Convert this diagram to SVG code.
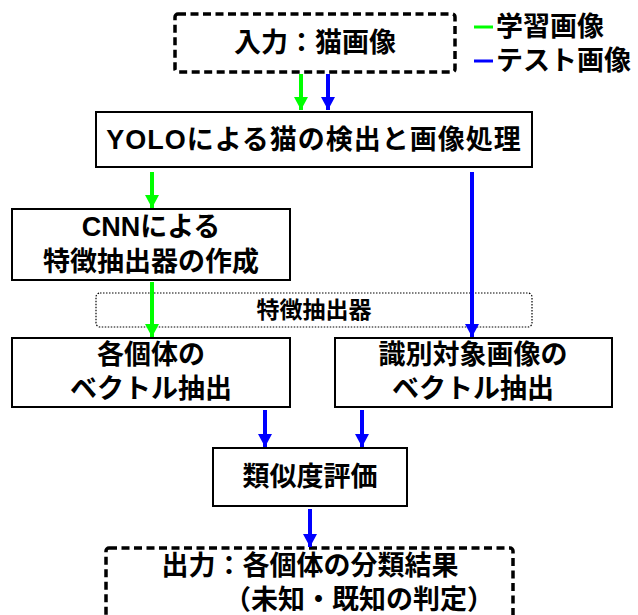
<svg xmlns="http://www.w3.org/2000/svg" width="638" height="615" viewBox="0 0 638 615">
<defs>
<marker id="ag" viewBox="0 0 13 14" refX="13" refY="7" markerWidth="13" markerHeight="14" markerUnits="userSpaceOnUse" orient="auto"><path d="M0,0 L13,7 L0,14 Z" fill="#00ff00"/></marker>
<marker id="ab" viewBox="0 0 13 14" refX="13" refY="7" markerWidth="13" markerHeight="14" markerUnits="userSpaceOnUse" orient="auto"><path d="M0,0 L13,7 L0,14 Z" fill="#0000ff"/></marker>
</defs>
<style>
text{font-family:"Liberation Sans","Noto Sans CJK JP",sans-serif;font-weight:bold;fill:#000;font-size:27px;text-anchor:middle;dominant-baseline:central}
.box{fill:#fff;stroke:#000;stroke-width:2}
.dash{fill:#fff;stroke:#000;stroke-width:3.5;stroke-dasharray:8 4.5}
.dot{fill:#fff;stroke:#000;stroke-width:1.2;stroke-dasharray:1.5 1.5}
.g{stroke:#00ff00;stroke-width:4;fill:none}
.b{stroke:#0000ff;stroke-width:4;fill:none}
</style>
<rect width="638" height="615" fill="#fff"/>
<g id="input"><rect class="dash" x="175" y="14" width="280" height="58" rx="3"/><text x="315" y="43">入力：猫画像</text></g>
<g id="legend">
<line class="g" x1="474" y1="27" x2="493" y2="27" style="stroke-width:3"/><text x="496" y="27" style="text-anchor:start">学習画像</text>
<line class="b" x1="474" y1="61" x2="493" y2="61" style="stroke-width:3"/><text x="496" y="61" style="text-anchor:start">テスト画像</text>
</g>
<g id="yolo"><rect class="box" x="96" y="112" width="436" height="55"/><text x="314" y="140" style="letter-spacing:1px">YOLOによる猫の検出と画像処理</text></g>
<g id="cnn"><rect class="box" x="12" y="209" width="278" height="71"/><text x="151" y="227">CNNによる</text><text x="151" y="262">特徴抽出器の作成</text></g>
<g id="extractor"><rect class="dot" x="96" y="293" width="436" height="34" rx="4"/><text x="314" y="310" style="font-size:23px">特徴抽出器</text></g>
<g id="vecL"><rect class="box" x="12" y="338" width="278" height="69"/><text x="151" y="355">各個体の</text><text x="151" y="389">ベクトル抽出</text></g>
<g id="vecR"><rect class="box" x="335" y="338" width="277" height="69"/><text x="473" y="355">識別対象画像の</text><text x="473" y="389">ベクトル抽出</text></g>
<g id="sim"><rect class="box" x="213" y="448" width="194" height="58"/><text x="310" y="477">類似度評価</text></g>
<g id="output"><rect class="dash" x="106" y="548" width="407" height="80" rx="3"/><text x="310" y="566">出力：各個体の分類結果</text><text x="224" y="600" style="text-anchor:start">（未知・既知の判定）</text></g>
<g id="connectors">
<line class="g" x1="301" y1="74" x2="301" y2="110" marker-end="url(#ag)"/>
<line class="b" x1="328" y1="74" x2="328" y2="110" marker-end="url(#ab)"/>
<line class="g" x1="152" y1="172" x2="152" y2="208" marker-end="url(#ag)"/>
<line class="b" x1="472" y1="172" x2="472" y2="337" marker-end="url(#ab)"/>
<line class="g" x1="152" y1="282" x2="152" y2="337" marker-end="url(#ag)"/>
<line class="b" x1="265" y1="410" x2="265" y2="447" marker-end="url(#ab)"/>
<line class="b" x1="362" y1="410" x2="362" y2="447" marker-end="url(#ab)"/>
<line class="b" x1="310" y1="509" x2="310" y2="547" marker-end="url(#ab)"/>
</g>
</svg>
